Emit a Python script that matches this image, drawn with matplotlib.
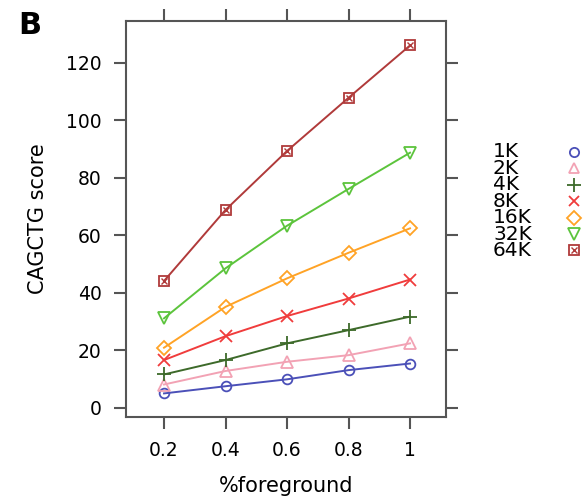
import matplotlib
matplotlib.use("Agg")
import matplotlib.pyplot as plt
from matplotlib.lines import Line2D

plt.rcParams['font.family'] = ['DejaVu Sans']

x = [0.2, 0.4, 0.6, 0.8, 1.0]
series_names = ["1K", "2K", "4K", "8K", "16K", "32K", "64K"]
s1K = [5.0, 7.5, 9.9, 13.1, 15.4]
s2K = [8.1, 12.8, 16.0, 18.3, 22.4]
s4K = [11.6, 16.6, 22.4, 27.0, 31.7]
s8K = [16.6, 24.9, 31.9, 38.0, 44.6]
s16K = [20.9, 35.1, 45.0, 53.9, 62.4]
s32K = [31.1, 48.5, 63.3, 76.1, 88.7]
s64K = [44.1, 68.8, 89.3, 107.8, 126.0]
values = [s1K, s2K, s4K, s8K, s16K, s32K, s64K]
xticks = [0.2, 0.4, 0.6, 0.8, 1.0]
xticklabels = ["0.2", "0.4", "0.6", "0.8", "1"]
yticks = [0, 20, 40, 60, 80, 100, 120]

colors = ["#4b50b8", "#f2a2b4", "#3d6a2a", "#f03c3c", "#ffa326", "#5cc43c", "#b03a3a"]
markers = ["o", "^", "+", "x", "D", "v", "s"]
msizes = [7, 8, 10, 8, 7, 9, 7]

fig = plt.figure(figsize=(5.85, 5.03), dpi=100)
ax = fig.add_axes([126/585, 1-417/503, 320/585, (417-20.7)/503])

for name, vals, c, m, ms in zip(series_names, values, colors, markers, msizes):
    ax.plot(x, vals, color=c, lw=1.4, marker=m, ms=ms, mfc='none', mec=c, mew=1.3,
            clip_on=False)
    if name == "64K":
        ax.plot(x, vals, color=c, lw=0, marker='x', ms=4.5, mec=c, mew=1.0, clip_on=False)

ax.set_xlim(0.0764, 1.117)
ax.set_ylim(-3.2, 134.6)
ax.set_xticks(xticks)
ax.set_xticklabels(xticklabels)
ax.set_yticks(yticks)
for sp in ax.spines.values():
    sp.set_color("#555555")
    sp.set_linewidth(1.5)
ax.tick_params(axis='both', which='both', direction='out', length=8.5, width=1.5,
               color="#555555", labelsize=13.5, pad=9,
               top=True, right=True, labeltop=False, labelright=False)
ax.tick_params(axis='x', pad=9)
ax.set_xlabel("%foreground", fontsize=15, labelpad=11)
ax.set_ylabel("CAGCTG score", fontsize=15, labelpad=13)

fig.text(30/585, 1-26/503, "B", fontsize=22, fontweight='bold', ha='center', va='center')

# legend
y0 = 1 - 152/503
dy = 16.4/503
fig.text(493/585, y0 - 3*dy, "\n".join(series_names), fontsize=14.5,
         ha='left', va='center', linespacing=0.83)
for i, (name, c, m, ms) in enumerate(zip(series_names, colors, markers, msizes)):
    yy = y0 - i*dy
    ln = Line2D([574/585], [yy], transform=fig.transFigure, marker=m, ms=ms*0.95,
                mfc='none', mec=c, mew=1.3, lw=0)
    fig.add_artist(ln)
    if name == "64K":
        fig.add_artist(Line2D([574/585], [yy], transform=fig.transFigure, marker='x',
                              ms=4.5, mec=c, mew=1.0, lw=0))

fig.savefig("out.png", dpi=100)
